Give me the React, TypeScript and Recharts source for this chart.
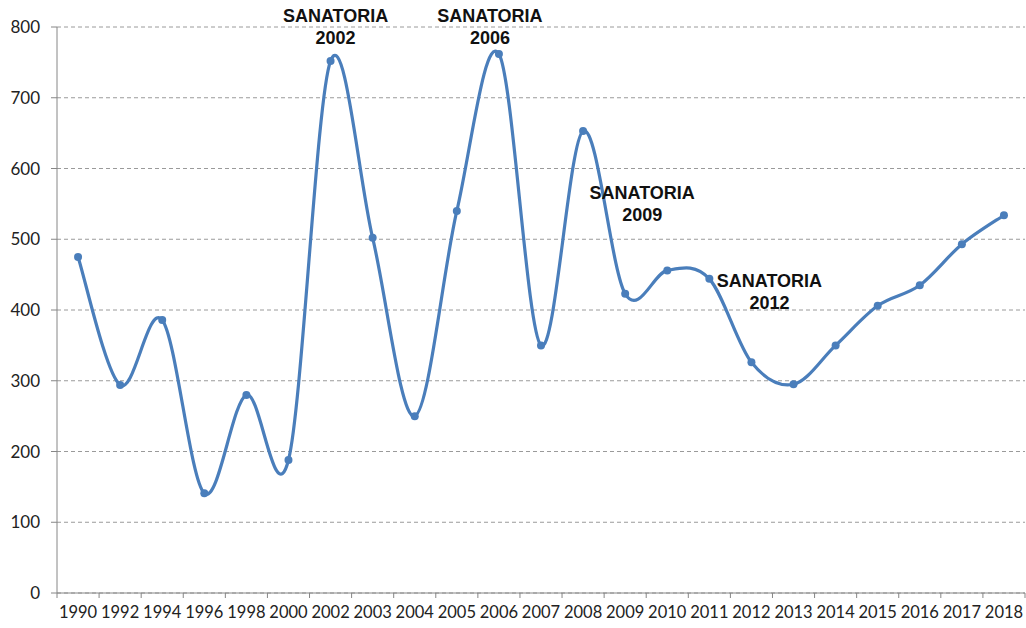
import { LineChart, Line, XAxis, YAxis, CartesianGrid } from 'recharts';

const years = [
  '1990', '1992', '1994', '1996', '1998', '2000', '2002', '2003', '2004', '2005', '2006', '2007',
  '2008', '2009', '2010', '2011', '2012', '2013', '2014', '2015', '2016', '2017', '2018',
];
const values = [
  475, 294, 386, 141, 280, 188, 752, 502, 250, 540, 762, 350,
  653, 423, 456, 444, 326, 295, 350, 406, 435, 493, 534,
];
const yTicks = [0, 100, 200, 300, 400, 500, 600, 700, 800];

// text notes hung on some of the points
const notes = [
  { year: '2002', lines: ['SANATORIA', '2002'] },
  { year: '2006', lines: ['SANATORIA', '2006'] },
  { year: '2009', lines: ['SANATORIA', '2009'] },
  { year: '2012', lines: ['SANATORIA', '2012'] },
];
// where each note sits relative to its point
const noteOffset: Record<string, { dx: number; dy: number }> = {
  '2002': { dx: 5, dy: -39 },
  '2006': { dx: -9, dy: -32 },
  '2009': { dx: 17, dy: -95 },
  '2012': { dx: 18, dy: -75 },
};

const data = years.map((year, i) => ({ year, value: values[i] }));

const W = 1026;
const H = 628;
const plotLeft = 57;
const plotRight = 1025;
const step = (plotRight - plotLeft) / years.length;
const BLUE = '#4a7ebb';

// Excel-like smoothed line (Catmull-Rom through the points)
const smoothCurve = (context: any) => {
  let pts: [number, number][] = [];
  return {
    areaStart() {},
    areaEnd() {},
    lineStart() {
      pts = [];
    },
    point(x: number, y: number) {
      pts.push([+x, +y]);
    },
    lineEnd() {
      const n = pts.length;
      if (!n) return;
      context.moveTo(pts[0][0], pts[0][1]);
      for (let i = 0; i < n - 1; i++) {
        const p0 = pts[Math.max(i - 1, 0)];
        const p1 = pts[i];
        const p2 = pts[i + 1];
        const p3 = pts[Math.min(i + 2, n - 1)];
        context.bezierCurveTo(
          p1[0] + (p2[0] - p0[0]) / 6,
          p1[1] + (p2[1] - p0[1]) / 6,
          p2[0] - (p3[0] - p1[0]) / 6,
          p2[1] - (p3[1] - p1[1]) / 6,
          p2[0],
          p2[1]
        );
      }
    },
  };
};

function YearTick(props: any) {
  const { x, y, payload, index } = props;
  const left = x - step / 2;
  return (
    <g>
      <line x1={left} y1={y - 5} x2={left} y2={y} stroke="#868686" />
      {index === years.length - 1 && (
        <line x1={x + step / 2} y1={y - 5} x2={x + step / 2} y2={y} stroke="#868686" />
      )}
      <text x={x} y={y + 20} textAnchor="middle" fontSize={16.5} fill="#222" fontFamily="Lato, sans-serif">
        {payload.value}
      </text>
    </g>
  );
}

function NoteLabel(props: any) {
  const { x, y, index } = props;
  const year = years[index];
  const note = notes.find((n) => n.year === year);
  if (!note) return <g />;
  const off = noteOffset[year];
  return (
    <text
      x={x + off.dx}
      y={y + off.dy}
      textAnchor="middle"
      fontSize={18}
      fontWeight="bold"
      fill="#111"
      fontFamily="'Liberation Sans', Arial, sans-serif"
    >
      {note.lines.map((t, i) => (
        <tspan key={i} x={x + off.dx} dy={i === 0 ? 0 : 22}>
          {t}
        </tspan>
      ))}
    </text>
  );
}

export default function App() {
  return (
    <div style={{ position: 'absolute', left: 0, top: 0, width: W, height: H, background: '#fff' }}>
      <LineChart width={W} height={H} data={data} margin={{ top: 27, right: W - plotRight, left: 0, bottom: 0 }}>
        <CartesianGrid vertical={false} stroke="#9a9a9a" strokeDasharray="4 3" />
        <XAxis
          dataKey="year"
          height={35}
          interval={0}
          padding={{ left: step / 2, right: step / 2 }}
          tickSize={5}
          tickMargin={0}
          tickLine={false}
          axisLine={{ stroke: '#868686' }}
          tick={<YearTick />}
        />
        <YAxis
          width={plotLeft}
          domain={[0, 800]}
          ticks={yTicks}
          interval={0}
          tickSize={6}
          tickMargin={11}
          axisLine={{ stroke: '#868686' }}
          tickLine={{ stroke: '#868686' }}
          tick={{ fontSize: 17, fill: '#222', fontFamily: 'Lato, sans-serif' }}
        />
        <Line
          dataKey="value"
          type={smoothCurve as any}
          stroke={BLUE}
          strokeWidth={3.2}
          dot={{ r: 4, fill: BLUE, stroke: BLUE, strokeWidth: 0 }}
          label={<NoteLabel />}
          isAnimationActive={false}
        />
      </LineChart>
    </div>
  );
}
